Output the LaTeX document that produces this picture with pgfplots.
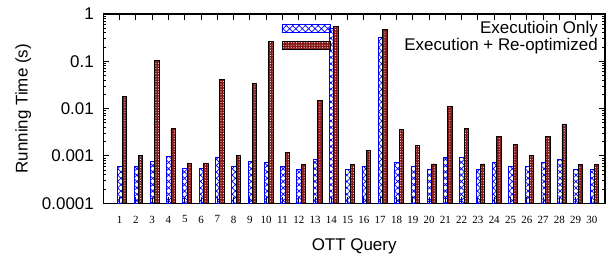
\documentclass[border=0pt]{standalone}
\usepackage{pgfplots}
\pgfplotsset{compat=1.18}
\usepackage{pgfplotstable}
\usetikzlibrary{patterns.meta}
\usepackage{fontspec}
\setmainfont{Liberation Sans}
\newfontfamily\timesfont{Liberation Serif}
\definecolor{bluebar}{rgb}{0,0,1}
\definecolor{redbar}{RGB}{135,22,22}

\pgfplotstableread{
x a b
1 0.00059 0.0178
2 0.00061 0.00104
3 0.00076 0.103
4 0.00097 0.0038
5 0.00054 0.00069
6 0.00054 0.00069
7 0.00093 0.0414
8 0.00060 0.00104
9 0.00076 0.034
10 0.00073 0.26
11 0.00060 0.00118
12 0.00052 0.00067
13 0.00084 0.015
14 0.50 0.54
15 0.00051 0.00066
16 0.00060 0.00132
17 0.32 0.47
18 0.00073 0.0036
19 0.00060 0.00169
20 0.00052 0.00068
21 0.00093 0.011
22 0.00093 0.0038
23 0.00053 0.00068
24 0.00073 0.0026
25 0.00060 0.00175
26 0.00060 0.00103
27 0.00073 0.0026
28 0.00084 0.0046
29 0.00052 0.00067
30 0.00052 0.00067
}\data

\pgfplotsset{legbox/.style={legend image code/.code={\draw[##1] (0bp,-4bp) rectangle (48bp,4bp);}}}

\begin{document}
\begin{tikzpicture}
\useasboundingbox (-103.3bp,-57.7bp) rectangle (509.7bp,203.3bp);
\begin{axis}[
  scale only axis,
  width=501.7bp, height=189.3bp,
  ymode=log, log origin=infty,
  xmin=0, xmax=30.8, ymin=1e-4, ymax=1,
  ytick={1e-4,1e-3,1e-2,1e-1,1},
  yticklabels={0.0001,0.001,0.01,0.1,1},
  xtick={1,...,30},
  /pgf/number format/assume math mode=true,
  x tick label style={font=\timesfont\fontsize{11}{12}\selectfont, yshift=-9bp},
  y tick label style={font=\fontsize{17}{19}\selectfont, xshift=-6bp},
  axis line style={line width=1.3bp},
  every tick/.style={line width=1bp, black},
  major tick length=6bp, minor tick length=3bp,
  xlabel={OTT Query},
  ylabel={Running Time (s)},
  label style={font=\fontsize{17}{19}\selectfont},
  xlabel style={yshift=-9bp},
  ylabel style={yshift=4bp},
  legend cell align=right,
  legend style={at={(1,1)}, anchor=north east, draw=none, fill=none,
    inner sep=0pt, xshift=-6bp, yshift=-6bp, row sep=0bp,
    font=\fontsize{17}{19}\selectfont,
    nodes={text height=12bp, text depth=3bp, inner sep=1bp},
    /tikz/every odd column/.append style={column sep=73bp}},
]
\addplot[ybar, bar width=0.27, bar shift=0.02, draw=bluebar, line width=0.8bp,
  pattern={Hatch[angle=45,distance=4.5bp,line width=0.7bp]}, pattern color=bluebar, legbox]
  table[x=x,y=a]{\data};
\addlegendentry{Executioin Only}
\addplot[ybar, bar width=0.27, bar shift=0.29, draw=black, line width=0.8bp,
  fill=redbar, postaction={pattern={Dots[distance=2.6bp,radius=0.55bp]}, pattern color=white}, legbox]
  table[x=x,y=b]{\data};
\addlegendentry{Execution + Re-optimized}
\end{axis}
\end{tikzpicture}
\end{document}
